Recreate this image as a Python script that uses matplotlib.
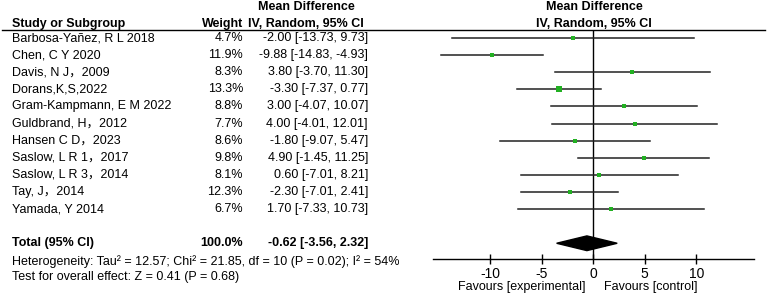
import matplotlib
matplotlib.use("Agg")
import matplotlib.pyplot as plt
from matplotlib.lines import Line2D
from matplotlib.patches import Polygon
from matplotlib.transforms import blended_transform_factory

plt.rcParams["font.family"] = ["Liberation Sans", "Noto Sans CJK SC", "DejaVu Sans"]
plt.rcParams["font.size"] = 9

studies = ["Barbosa-Yañez, R L 2018", "Chen, C Y 2020", "Davis, N J\uff0c2009",
           "Dorans,K,S,2022", "Gram-Kampmann, E M 2022", "Guldbrand, H\uff0c2012",
           "Hansen C D\uff0c2023", "Saslow, L R 1\uff0c2017", "Saslow, L R 3\uff0c2014",
           "Tay, J\uff0c2014", "Yamada, Y 2014"]
weights = [4.7, 11.9, 8.3, 13.3, 8.8, 7.7, 8.6, 9.8, 8.1, 12.3, 6.7]
md = [-2.00, -9.88, 3.80, -3.30, 3.00, 4.00, -1.80, 4.90, 0.60, -2.30, 1.70]
lo = [-13.73, -14.83, -3.70, -7.37, -4.07, -4.01, -9.07, -1.45, -7.01, -7.01, -7.33]
hi = [9.73, -4.93, 11.30, 0.77, 10.07, 12.01, 5.47, 11.25, 8.21, 2.41, 10.73]
total_md, total_lo, total_hi = -0.62, -3.56, 2.32
ticks = [-10, -5, 0, 5, 10]

W, H = 767, 298
fig = plt.figure(figsize=(W / 100, H / 100), dpi=100)

def fx(px):
    return px / W

def fy(py):
    return 1 - py / H

# forest plot axes: top at header rule, bottom at x-axis line
ax = fig.add_axes([fx(433), fy(259), fx(754 - 433), (259 - 30) / H])
ax.set_xlim(-15.56, 15.6)
ax.set_ylim(12.92, -0.47)
for s in ["top", "left", "right"]:
    ax.spines[s].set_visible(False)
ax.spines["bottom"].set_linewidth(1.0)
ax.set_yticks([])
ax.set_xticks(ticks)
ax.set_xticklabels([str(t) for t in ticks], fontsize=10)
ax.tick_params(axis="x", direction="inout", length=7, width=1, pad=2)
ax.axvline(0, color="black", lw=1)

green = "#22b022"
for i in range(len(studies)):
    ax.plot([lo[i], hi[i]], [i, i], color="#222222", lw=1.1)
    ax.plot(md[i], i, marker="s", color=green, ms=1.0 * weights[i] ** 0.5,
            mew=0, lw=0)

ty = 12
ax.add_patch(Polygon([[total_lo, ty], [total_md, ty - 0.43], [total_hi, ty],
                      [total_md, ty + 0.43]], closed=True, color="black"))

# header rule
fig.add_artist(Line2D([fx(2), fx(765)], [fy(30), fy(30)], color="black", lw=1))

# headers
fig.text(fx(12), fy(24), "Study or Subgroup", fontweight="bold", va="center")
fig.text(fx(243), fy(24), "Weight", fontweight="bold", va="center", ha="right")
fig.text(fx(306), fy(7), "Mean Difference", fontweight="bold", va="center", ha="center")
fig.text(fx(306), fy(24), "IV, Random, 95% CI", fontweight="bold", va="center", ha="center")
fig.text(fx(594), fy(7), "Mean Difference", fontweight="bold", va="center", ha="center")
fig.text(fx(594), fy(24), "IV, Random, 95% CI", fontweight="bold", va="center", ha="center")

tr = blended_transform_factory(fig.transFigure, ax.transData)
for i in range(len(studies)):
    fig.text(fx(12), i, studies[i], transform=tr, va="center")
    fig.text(fx(243), i, "%.1f%%" % weights[i], transform=tr, va="center", ha="right")
    fig.text(fx(368), i, "%.2f [%.2f, %.2f]" % (md[i], lo[i], hi[i]),
             transform=tr, va="center", ha="right")

fig.text(fx(12), ty, "Total (95% CI)", transform=tr, va="center", fontweight="bold")
fig.text(fx(243), ty, "100.0%", transform=tr, va="center", ha="right", fontweight="bold")
fig.text(fx(368), ty, "%.2f [%.2f, %.2f]" % (total_md, total_lo, total_hi),
         transform=tr, va="center", ha="right", fontweight="bold")

fig.text(fx(12), fy(262),
         "Heterogeneity: Tau\u00b2 = 12.57; Chi\u00b2 = 21.85, df = 10 (P = 0.02); I\u00b2 = 54%",
         va="center")
fig.text(fx(12), fy(277), "Test for overall effect: Z = 0.41 (P = 0.68)", va="center")

fig.text(fx(585), fy(287), "Favours [experimental]", va="center", ha="right")
fig.text(fx(604), fy(287), "Favours [control]", va="center", ha="left")

fig.savefig("out.png", dpi=100)
